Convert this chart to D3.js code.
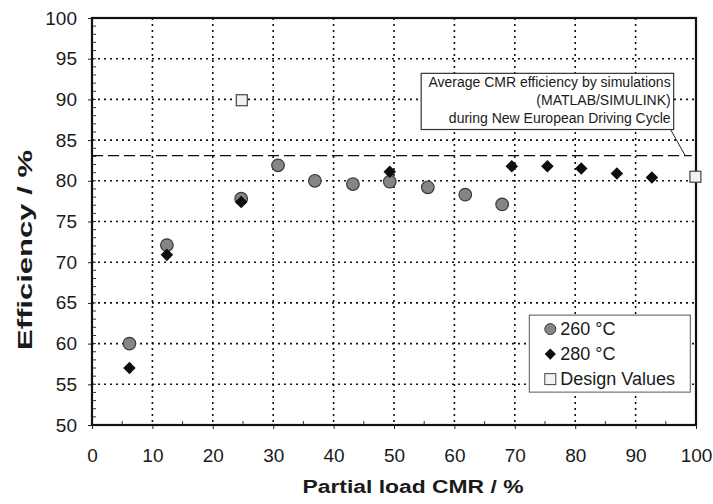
<!DOCTYPE html>
<html>
<head>
<meta charset="utf-8">
<script src="https://cdn.jsdelivr.net/npm/d3@7"></script>
<style>
  body { margin: 0; background: #fff; }
  text { font-family: "Liberation Sans", Arial, sans-serif; fill: #1a1a1a; }
</style>
</head>
<body>
<svg id="chart" width="713" height="504"></svg>
<script>
// data
var xTicks = [0, 10, 20, 30, 40, 50, 60, 70, 80, 90, 100];
var yTicks = [50, 55, 60, 65, 70, 75, 80, 85, 90, 95, 100];

var load260 = [6.2, 12.4, 24.7, 30.8, 36.9, 43.2, 49.3, 55.6, 61.8, 67.9];
var eff260  = [60.0, 72.1, 77.8, 81.9, 80.0, 79.6, 79.9, 79.2, 78.3, 77.1];

var load280 = [6.2, 12.4, 24.7, 49.3, 69.5, 75.4, 81.0, 86.9, 92.7];
var eff280  = [57.0, 70.9, 77.4, 81.1, 81.8, 81.8, 81.5, 80.9, 80.4];

var loadDesign = [24.8, 99.9];
var effDesign  = [89.9, 80.5];

var avgSim = 83.1;
var noteLines = ["Average CMR efficiency by simulations", "(MATLAB/SIMULINK)", "during New European Driving Cycle"];
var legendItems = ["260 °C", "280 °C", "Design Values"];

var svg = d3.select("#chart");
var m = {left: 92, right: 17, top: 18, bottom: 79};
var W = 713 - m.left - m.right, H = 504 - m.top - m.bottom;

var x = d3.scaleLinear().domain([0, 100]).range([0, W]);
var y = d3.scaleLinear().domain([50, 100]).range([H, 0]);

var g = svg.append("g").attr("transform", "translate(" + m.left + "," + m.top + ")");

/* dotted grid */
g.selectAll(".gx").data(xTicks.slice(1, -1)).enter().append("line")
  .attr("x1", d => x(d)).attr("x2", d => x(d)).attr("y1", 0).attr("y2", H)
  .attr("stroke", "#111").attr("stroke-width", 1.6).attr("stroke-dasharray", "2,4");
g.selectAll(".gy").data(yTicks.slice(1, -1)).enter().append("line")
  .attr("y1", d => y(d)).attr("y2", d => y(d)).attr("x1", 0).attr("x2", W)
  .attr("stroke", "#111").attr("stroke-width", 1.6).attr("stroke-dasharray", "2,4");

/* minor ticks pointing inside */
g.selectAll(".my").data(d3.range(51, 100)).enter().append("line")
  .attr("x1", 0).attr("x2", 4).attr("y1", d => y(d)).attr("y2", d => y(d))
  .attr("stroke", "#333").attr("stroke-width", 1);
g.selectAll(".mx").data(d3.range(5, 100, 10)).enter().append("line")
  .attr("x1", d => x(d)).attr("x2", d => x(d)).attr("y1", H).attr("y2", H - 4)
  .attr("stroke", "#333").attr("stroke-width", 1);

/* axes */
var xAxis = g.append("g").attr("transform", "translate(0," + H + ")")
  .call(d3.axisBottom(x).tickValues(xTicks).tickSize(4).tickPadding(20));
var yAxis = g.append("g")
  .call(d3.axisLeft(y).tickValues(yTicks).tickSize(4).tickPadding(11));
[xAxis, yAxis].forEach(function(a) {
  a.select(".domain").remove();
  a.selectAll("line").attr("stroke", "#222");
  a.selectAll("text").style("font-size", "19px").attr("fill", "#1a1a1a");
});

/* frame */
g.append("rect").attr("width", W).attr("height", H)
  .attr("fill", "none").attr("stroke", "#111").attr("stroke-width", 2.2);

/* simulation average line */
g.append("line").attr("x1", 0).attr("x2", x(99.3))
  .attr("y1", y(avgSim)).attr("y2", y(avgSim))
  .attr("stroke", "#111").attr("stroke-width", 1.3).attr("stroke-dasharray", "11,5");

/* note box + leader */
var nb = {x0: x(54.5), x1: x(96.3), y0: y(93.2), y1: y(86.3)};
g.append("line").attr("x1", x(95.8)).attr("y1", nb.y1).attr("x2", x(98.2)).attr("y2", y(avgSim))
  .attr("stroke", "#222").attr("stroke-width", 1);
g.append("rect").attr("x", nb.x0).attr("y", nb.y0)
  .attr("width", nb.x1 - nb.x0).attr("height", nb.y1 - nb.y0)
  .attr("fill", "#fff").attr("stroke", "#333").attr("stroke-width", 1.2);
g.selectAll(".note").data(noteLines).enter().append("text")
  .attr("x", nb.x1 - 3).attr("y", (d, i) => nb.y0 + 13.5 + i * 18)
  .attr("text-anchor", "end").style("font-size", "14px").text(d => d);

/* points */
var diamond = d3.symbol().type(d3.symbolDiamond2).size(100);
g.selectAll(".c260").data(load260).enter().append("circle")
  .attr("cx", d => x(d)).attr("cy", (d, i) => y(eff260[i])).attr("r", 6.3)
  .attr("fill", "#858585").attr("stroke", "#3a3a3a").attr("stroke-width", 1.2);
g.selectAll(".d280").data(load280).enter().append("path")
  .attr("d", diamond)
  .attr("transform", (d, i) => "translate(" + x(d) + "," + y(eff280[i]) + ")")
  .attr("fill", "#0d0d0d");
g.selectAll(".sq").data(loadDesign).enter().append("rect")
  .attr("x", d => x(d) - 5.5).attr("y", (d, i) => y(effDesign[i]) - 5.5)
  .attr("width", 11).attr("height", 11)
  .attr("fill", "#f2f2f2").attr("stroke", "#444").attr("stroke-width", 1.2);

/* legend */
var lg = g.append("g").attr("transform", "translate(" + x(72.4) + "," + y(63.5) + ")");
lg.append("rect").attr("width", 161).attr("height", 77)
  .attr("fill", "#fff").attr("stroke", "#555").attr("stroke-width", 1);
var li = lg.selectAll(".li").data(legendItems).enter().append("g")
  .attr("transform", (d, i) => "translate(21," + (14 + i * 25) + ")");
li.append("text").attr("x", 10).attr("dy", "0.35em").style("font-size", "18px").text(d => d);
li.filter((d, i) => i === 0).append("circle").attr("r", 5.5)
  .attr("fill", "#858585").attr("stroke", "#3a3a3a");
li.filter((d, i) => i === 1).append("path")
  .attr("d", d3.symbol().type(d3.symbolDiamond2).size(80)).attr("fill", "#0d0d0d");
li.filter((d, i) => i === 2).append("rect").attr("x", -5.5).attr("y", -5.5)
  .attr("width", 11).attr("height", 11).attr("fill", "#f2f2f2").attr("stroke", "#444");

/* axis titles */
svg.append("text").attr("transform", "translate(32,250) rotate(-90)")
  .attr("text-anchor", "middle").style("font-size", "21px").style("font-weight", "bold")
  .attr("textLength", 200).attr("lengthAdjust", "spacingAndGlyphs")
  .text("Efficiency / %");
svg.append("text").attr("x", 413).attr("y", 493)
  .attr("text-anchor", "middle").style("font-size", "18px").style("font-weight", "bold")
  .attr("textLength", 221).attr("lengthAdjust", "spacingAndGlyphs")
  .text("Partial load CMR / %");
</script>
</body>
</html>
